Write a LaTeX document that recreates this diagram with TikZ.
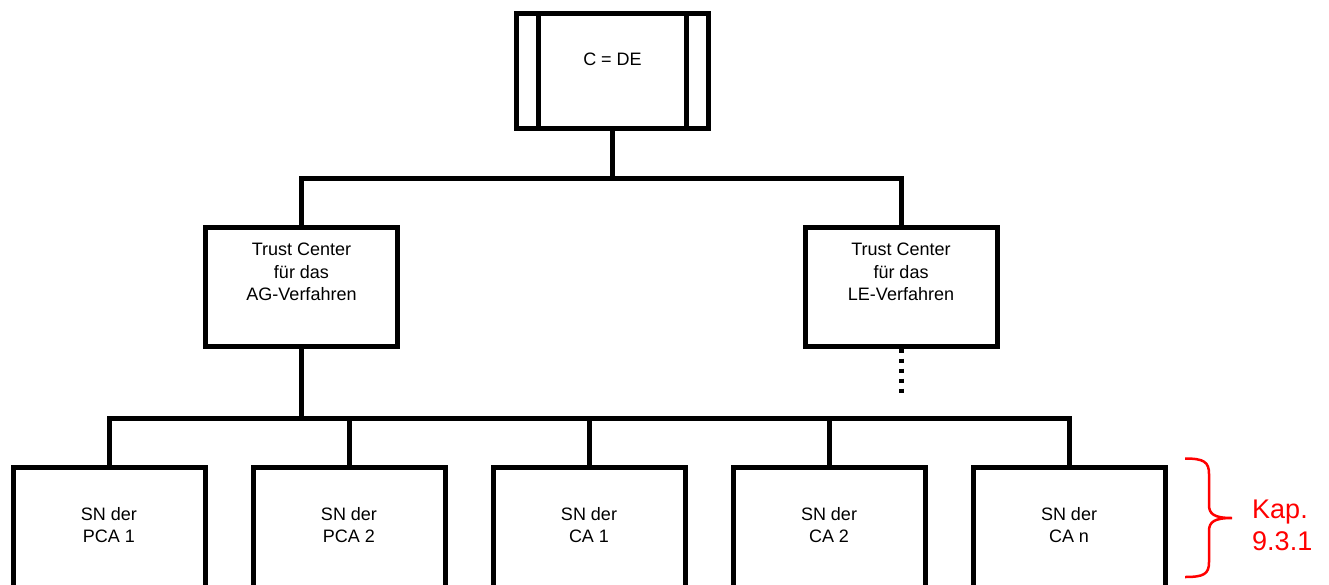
\documentclass[tikz,border=0pt]{standalone}
\usepackage{fontspec}
\setmainfont{Liberation Sans}
\begin{document}
\begin{tikzpicture}[x=1pt,y=-1pt,
  box/.style={draw, line width=5pt, minimum width=192pt, inner sep=0pt, outer sep=0pt, fill=white},
  lbl/.style={font=\fontsize{18}{22.5}\selectfont, align=center, inner sep=0pt, anchor=north},
  wire/.style={line width=5pt},
  dotline/.style={line width=5pt, dash pattern=on 4.5pt off 5.5pt},
  bracestyle/.style={draw=red, line width=2.5pt},
  redlbl/.style={font=\fontsize{27}{32}\selectfont, text=red, align=left, inner sep=0pt, anchor=north west}
]
\useasboundingbox (0,0) rectangle (1329,584);
\clip (0,0) rectangle (1329,584);

% root box
\node[box, minimum height=115pt] (root) at (612.5,70.5) {};
\draw[wire] ([xshift=22pt]root.north west) -- ([xshift=22pt]root.south west);
\draw[wire] ([xshift=-22pt]root.north east) -- ([xshift=-22pt]root.south east);
\node[lbl] (roottxt) at (612.5,53) {C = DE};

% trust centers
\node[box, minimum height=119pt] (tcag) at (301.5,286.5) {};
\node[box, minimum height=119pt] (tcle) at (901,286.5) {};
\node[lbl] (tcagtxt) at (301.5,243) {Trust Center\\für das\\AG-Verfahren};
\node[lbl] (tcletxt) at (901,243) {Trust Center\\für das\\LE-Verfahren};

% bottom boxes
\node[box, minimum height=160pt] (sn1) at (109,547) {};
\node[box, minimum height=160pt] (sn2) at (349,547) {};
\node[box, minimum height=160pt] (sn3) at (589,547) {};
\node[box, minimum height=160pt] (sn4) at (829,547) {};
\node[box, minimum height=160pt] (sn5) at (1069,547) {};
\node[lbl] (sn1txt) at (109,507) {SN der\\PCA 1};
\node[lbl] (sn2txt) at (349,507) {SN der\\PCA 2};
\node[lbl] (sn3txt) at (589,507) {SN der\\CA 1};
\node[lbl] (sn4txt) at (829,507) {SN der\\CA 2};
\node[lbl] (sn5txt) at (1069,507) {SN der\\CA n};

% buses
\coordinate (bus1) at (612.5,178.5);
\coordinate (bus2) at (301.5,418.5);

\draw[wire] (root.south) -- (bus1);
\draw[wire] (tcag.north) -- (tcag.north |- bus1) -- (tcle.north |- bus1) -- (tcle.north);

\draw[wire] (tcag.south) -- (bus2);
\draw[wire] (sn1.north) -- (sn1.north |- bus2) -- (sn5.north |- bus2) -- (sn5.north);
\draw[wire] (sn2.north) -- (sn2.north |- bus2);
\draw[wire] (sn3.north) -- (sn3.north |- bus2);
\draw[wire] (sn4.north) -- (sn4.north |- bus2);

% dotted continuation
\coordinate (dotend) at (901,393);
\draw[dotline] ([yshift=-2.5pt]tcle.south) -- (dotend);

% brace
\coordinate (brtop) at (1185,458.5);
\coordinate (brtip) at (1232,518);
\coordinate (brbot) at (1185,577);
\draw[bracestyle] (brtop) .. controls (1204,458.5) and (1209,462) .. (1209,474)
  -- (1209,505) .. controls (1209,514) and (1214,518) .. (brtip)
  .. controls (1214,518) and (1209,522) .. (1209,531)
  -- (1209,562) .. controls (1209,574) and (1204,577) .. (brbot);
\node[redlbl] (kap) at (1252,500) {Kap.\\9.3.1};
\end{tikzpicture}
\end{document}
